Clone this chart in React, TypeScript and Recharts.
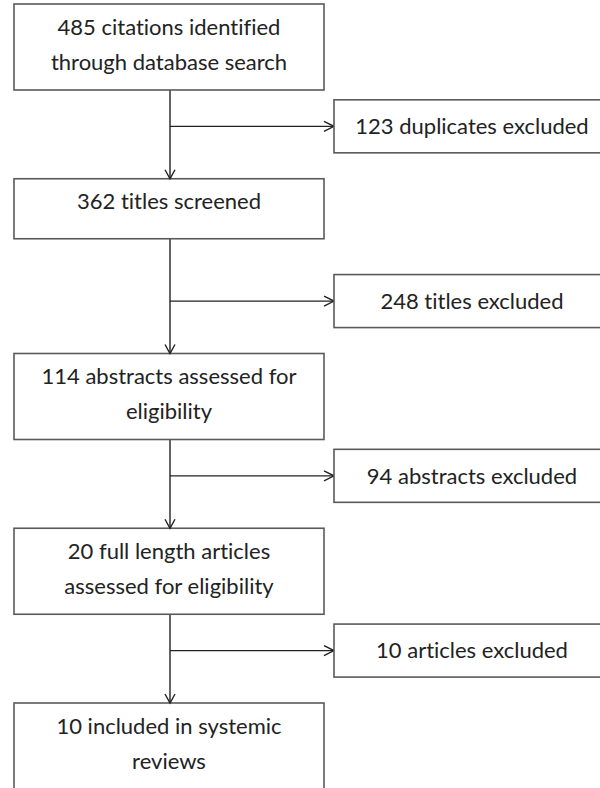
import React from 'react';
import { ScatterChart, Scatter, XAxis, YAxis } from 'recharts';

// flow stages (main column)
const stageCounts = [485, 362, 114, 20, 10];
const stageLines = [
    ['citations identified', 'through database search'],
    ['titles screened'],
    ['abstracts assessed for', 'eligibility'],
    ['full length articles', 'assessed for eligibility'],
    ['included in systemic', 'reviews'],
];

// exclusions branching off between stages
const excludedCounts = [123, 248, 94, 10];
const excludedText = ['duplicates excluded', 'titles excluded', 'abstracts excluded', 'articles excluded'];

// where along the connector the side branch leaves (fraction of a stage step)
const BRANCH = 0.7;

const FONT = "Lato, 'Open Sans', sans-serif";
const TEXT = '#222';
const BOX_STROKE = '#5a5a5a';
const LINE = '#222';
const FS = 22;

const stageData = stageCounts.map((count, i) => ({ col: 0, stage: i, count, lines: stageLines[i] }));
const excludedData = excludedCounts.map((count, i) => ({ col: 1, stage: i + BRANCH, count, text: excludedText[i] }));
const branchData = excludedCounts.map((_, i) => [
    { col: 0, stage: i + BRANCH, head: false },
    { col: 1, stage: i + BRANCH, head: true },
]);

const textStyle = { fontVariantLigatures: 'none' as const };

const StageBox = (props: any) => {
    const { cx, cy, payload } = props;
    const lines: string[] = payload.lines;
    const h = lines.length > 1 ? 86 : 60;
    const w = 310;
    const left = cx - 156;
    const mid = left + w / 2;
    return (
        <g>
            <rect x={left} y={cy} width={w} height={h} fill="#fff" stroke={BOX_STROKE} strokeWidth={1.6} />
            {payload.stage > 0 && (
                <path d={`M${cx - 5},${cy - 9} L${cx},${cy} L${cx + 5},${cy - 9}`} fill="none" stroke={LINE} strokeWidth={1.4} />
            )}
            {lines.map((ln, k) => (
                <text key={k} x={mid} y={cy + 23 + k * 35} dy="0.35em" textAnchor="middle"
                    fontFamily={FONT} fontSize={FS} fill={TEXT} style={textStyle}>
                    {k === 0 ? `${payload.count} ${ln}` : ln}
                </text>
            ))}
        </g>
    );
};

const ExcludedBox = (props: any) => {
    const { cx, cy, payload } = props;
    const h = 53;
    const w = 276;
    return (
        <g>
            <rect x={cx} y={cy - h / 2} width={w} height={h} fill="#fff" stroke={BOX_STROKE} strokeWidth={1.6} />
            <text x={cx + w / 2} y={cy} dy="0.35em" textAnchor="middle" fontFamily={FONT} fontSize={FS} fill={TEXT} style={textStyle}>
                {`${payload.count} ${payload.text}`}
            </text>
        </g>
    );
};

const BranchHead = (props: any) => {
    const { cx, cy, payload } = props;
    if (!payload.head) return <g />;
    return <path d={`M${cx - 10},${cy - 5} L${cx},${cy} L${cx - 10},${cy + 5}`} fill="none" stroke={LINE} strokeWidth={1.4} />;
};

export default function App() {
    return (
        <div style={{ width: 600, height: 788, background: '#fff' }}>
            <style>{'body{margin:0;}'}</style>
            <ScatterChart width={600} height={788} margin={{ top: 4, right: 266, bottom: 85, left: 170 }}>
                <XAxis type="number" dataKey="col" domain={[0, 1]} hide />
                <YAxis type="number" dataKey="stage" domain={[0, 4]} reversed hide />
                <Scatter
                    data={stageData}
                    line={{ stroke: LINE, strokeWidth: 1.4 }}
                    shape={StageBox}
                    isAnimationActive={false}
                />
                {branchData.map((d, i) => (
                    <Scatter
                        key={i}
                        data={d}
                        line={{ stroke: LINE, strokeWidth: 1.4 }}
                        shape={BranchHead}
                        isAnimationActive={false}
                    />
                ))}
                <Scatter data={excludedData} shape={ExcludedBox} isAnimationActive={false} />
            </ScatterChart>
        </div>
    );
}
